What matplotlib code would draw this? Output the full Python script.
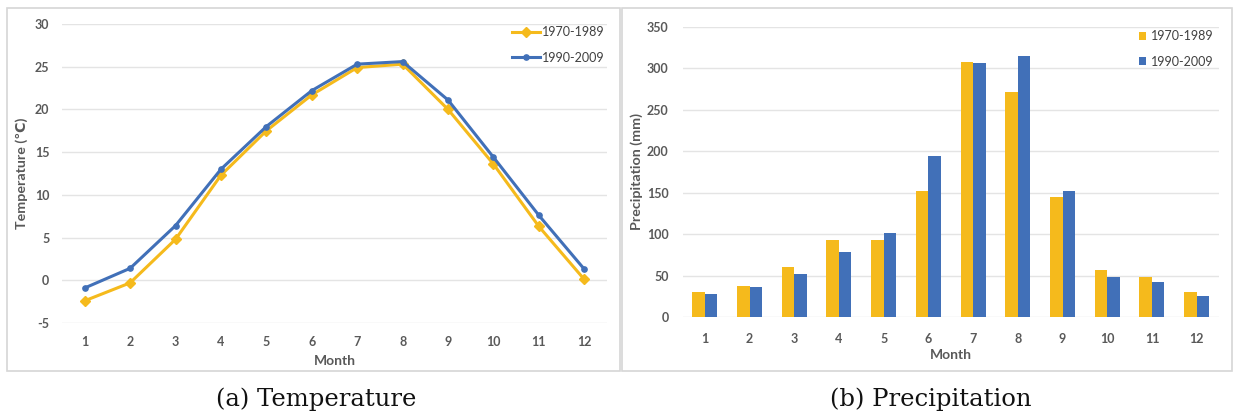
import matplotlib
matplotlib.use("Agg")
import matplotlib.pyplot as plt
from matplotlib.patches import Rectangle

# Data
months = [1, 2, 3, 4, 5, 6, 7, 8, 9, 10, 11, 12]
month_labels = [str(m) for m in months]
periods = ["1970-1989", "1990-2009"]

temp_1970 = [-2.4, -0.3, 4.8, 12.3, 17.5, 21.7, 24.9, 25.3, 20.0, 13.6, 6.3, 0.1]
temp_1990 = [-0.9, 1.4, 6.4, 13.0, 18.0, 22.2, 25.3, 25.6, 21.1, 14.4, 7.6, 1.3]

prec_1970 = [30, 38, 60, 93, 93, 152, 307, 271, 145, 57, 49, 31]
prec_1990 = [28, 37, 52, 79, 102, 194, 306, 315, 152, 48, 42, 26]

temp_ticks = [-5, 0, 5, 10, 15, 20, 25, 30]
prec_ticks = [0, 50, 100, 150, 200, 250, 300, 350]

YELLOW = "#F5BA1C"
BLUE = "#4170B8"
TICK_GREY = "#595959"
GRID_GREY = "#E4E4E4"

plt.rcParams["font.family"] = ["Lato", "DejaVu Sans"]
plt.rcParams["axes.unicode_minus"] = False

W, H = 1235, 412
fig = plt.figure(figsize=(W / 100, H / 100), dpi=100)


def px_box(x0, y0, x1, y1):
    # convert pixel box (top-left origin) to figure fraction rect
    return [x0 / W, 1 - y1 / H, (x1 - x0) / W, (y1 - y0) / H]


# light grey frames around each panel
for x0, x1 in [(7, 620), (622, 1232)]:
    r = px_box(x0, 8, x1, 371)
    fig.patches.append(Rectangle((r[0], r[1]), r[2], r[3], transform=fig.transFigure,
                                 fill=False, edgecolor="#D6D6D6", linewidth=1.2))


def style_axes(ax, xpad, ypad):
    for s in ax.spines.values():
        s.set_visible(False)
    ax.tick_params(length=0, labelsize=9, labelcolor=TICK_GREY)
    ax.tick_params(axis="y", pad=ypad)
    ax.tick_params(axis="x", pad=xpad)
    ax.grid(axis="y", color=GRID_GREY, linewidth=1)
    ax.set_axisbelow(True)
    for lab in ax.get_xticklabels() + ax.get_yticklabels():
        lab.set_fontweight("bold")


# (a) temperature lines
ax1 = fig.add_axes(px_box(62, 24, 607, 323))
ax1.plot(months, temp_1970, color=YELLOW, lw=2.2, marker="D", ms=5.5, label=periods[0])
ax1.plot(months, temp_1990, color=BLUE, lw=2.2, marker="o", ms=3.8, label=periods[1])
ax1.set_xlim(0.5, 12.5)
ax1.set_ylim(-5, 30)
ax1.set_yticks(temp_ticks)
ax1.set_xticks(months)
ax1.set_xticklabels(month_labels)
style_axes(ax1, xpad=9.5, ypad=9)
ax1.set_xlabel("Month", fontsize=10, fontweight="bold", color=TICK_GREY, labelpad=5)
ax1.set_ylabel("Temperature (℃)", fontsize=10.3, fontweight="bold", color=TICK_GREY, labelpad=5)
leg1 = ax1.legend(loc="upper right", bbox_to_anchor=(1.0055, 1.01), frameon=False,
                  fontsize=9, handlelength=2.24, labelspacing=1.1, handletextpad=0.16,
                  borderaxespad=0)
for t in leg1.get_texts():
    t.set_color("#404040")

# (b) precipitation bars
ax2 = fig.add_axes(px_box(682.5, 26.7, 1219, 317.3))
bw = 0.28
x_left = [m - bw / 2 for m in months]
x_right = [m + bw / 2 for m in months]
ax2.bar(x_left, prec_1970, width=bw, color=YELLOW, label=periods[0])
ax2.bar(x_right, prec_1990, width=bw, color=BLUE, label=periods[1])
ax2.set_xlim(0.5, 12.5)
ax2.set_ylim(0, 350)
ax2.set_yticks(prec_ticks)
ax2.set_xticks(months)
ax2.set_xticklabels(month_labels)
style_axes(ax2, xpad=11, ypad=10)
ax2.set_xlabel("Month", fontsize=10, fontweight="bold", color=TICK_GREY, labelpad=3)
ax2.set_ylabel("Precipitation (mm)", fontsize=10.3, fontweight="bold", color=TICK_GREY, labelpad=3)
leg2 = ax2.legend(loc="upper right", bbox_to_anchor=(1.0, 1.006), frameon=False,
                  fontsize=9, handlelength=0.6, handleheight=0.6, labelspacing=1.1,
                  handletextpad=0.4, borderaxespad=0)
for t in leg2.get_texts():
    t.set_color("#404040")

# captions under each panel
fig.text(316 / W, 1 - 399 / H, "(a) Temperature", ha="center", va="center",
         family="DejaVu Serif", fontsize=17.5, color="#111111")
fig.text(931 / W, 1 - 399 / H, "(b) Precipitation", ha="center", va="center",
         family="DejaVu Serif", fontsize=17.5, color="#111111")

fig.savefig("out.png", dpi=100, facecolor="white")
